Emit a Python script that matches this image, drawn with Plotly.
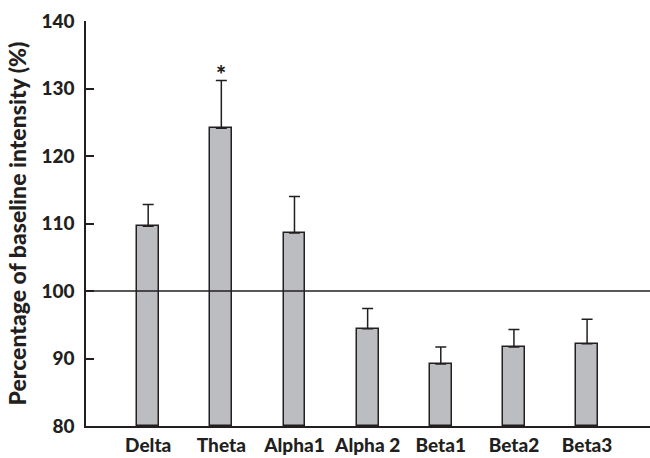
import plotly.graph_objects as go

categories = ["Delta", "Theta", "Alpha1", "Alpha 2", "Beta1", "Beta2", "Beta3"]
means = [109.6, 124.1, 108.6, 94.4, 89.2, 91.7, 92.2]
err_upper = [3.2, 7.1, 5.4, 3.0, 2.5, 2.6, 3.6]
significance = ["", "*", "", "", "", "", ""]
y_ticks = [80, 90, 100, 110, 120, 130, 140]
baseline = 100

ink = "#231f20"
font_family = "Lato, 'Open Sans', sans-serif"
W = 900

fig = go.Figure()
fig.add_trace(go.Bar(
    x=list(range(len(categories))),
    y=[m - 80 for m in means],
    base=80,
    width=0.3,
    marker=dict(color="#bcbdc1", line=dict(color=ink, width=1.5)),
    error_y=dict(type="data", symmetric=False, array=err_upper,
                 arrayminus=[0] * len(categories),
                 color=ink, thickness=1.5, width=5.5),
    showlegend=False,
    hoverinfo="skip",
))

fig.add_shape(type="line", xref="paper", x0=0, x1=1, yref="y",
              y0=baseline, y1=baseline, line=dict(color=ink, width=1.5),
              layer="above")

for i, s in enumerate(significance):
    if s:
        fig.add_annotation(x=i, y=means[i] + err_upper[i], text=s,
                           showarrow=False, yanchor="bottom", yshift=-11,
                           font=dict(family=font_family, size=24, color=ink, weight=W))

fig.update_layout(
    width=650, height=458,
    margin=dict(l=86, r=0, t=21, b=32),
    plot_bgcolor="white", paper_bgcolor="white",
    font=dict(family=font_family, color=ink, size=19, weight=W),
    bargap=0,
)
fig.update_xaxes(
    range=[-0.85, 6.86],
    tickmode="array", tickvals=list(range(len(categories))), ticktext=categories,
    showline=True, linecolor=ink, linewidth=1.5,
    ticks="", showgrid=False, zeroline=False,
    tickfont=dict(family=font_family, size=19, color=ink, weight=W),
    ticklabelstandoff=1,
    automargin=False,
)
fig.update_yaxes(
    range=[80, 140],
    tickmode="array", tickvals=y_ticks,
    showline=True, linecolor=ink, linewidth=1.5,
    ticks="inside", ticklen=8, tickwidth=1.5, tickcolor=ink,
    showgrid=False, zeroline=False,
    tickfont=dict(family=font_family, size=19, color=ink, weight=W),
    ticklabelstandoff=6,
    title=dict(text="Percentage of baseline intensity (%)", standoff=8,
               font=dict(family=font_family, size=23, color=ink, weight=W)),
    automargin=False,
)

fig.write_html("out.html", config={"displayModeBar": False},
               post_script="document.body.style.margin='0';")
